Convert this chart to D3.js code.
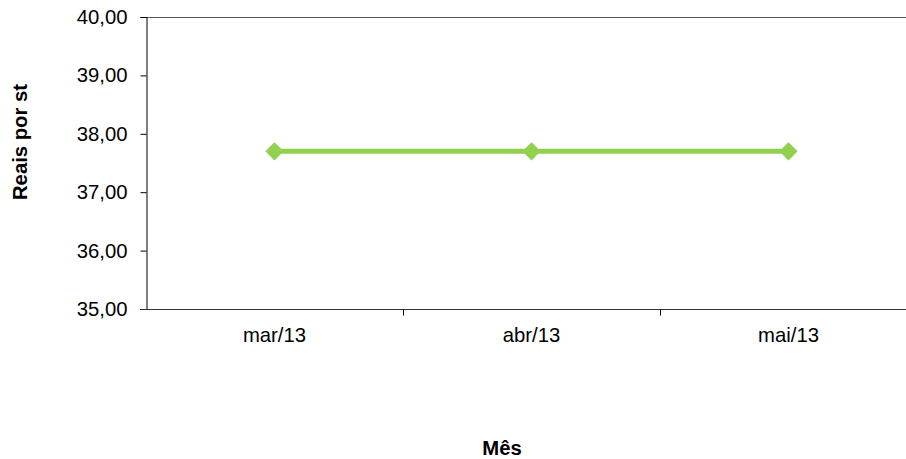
<!DOCTYPE html>
<html>
<head>
<meta charset="utf-8">
<script src="https://cdn.jsdelivr.net/npm/d3@7"></script>
<style>
  html, body { margin: 0; padding: 0; background: #fff; }
  svg { display: block; font-family: "Liberation Sans", Arial, sans-serif; }
</style>
</head>
<body>
<svg id="chart" width="906" height="459"></svg>
<script>
// Monthly price per stere
const months = ["mar/13", "abr/13", "mai/13"];
const prices = [37.70, 37.70, 37.70];
const yTicks = [35, 36, 37, 38, 39, 40];
const yTitle = "Reais por st";
const xTitle = "Mês";

const svg = d3.select("#chart");
const plotLeft = 146, plotRight = 917, plotTop = 17, plotBottom = 309;
const fontFamily = '"Liberation Sans", Arial, sans-serif';
const fontSize = 20.3;

const x = d3.scaleBand().domain(months).range([plotLeft, plotRight]);
const y = d3.scaleLinear().domain([35, 40]).range([plotBottom, plotTop]);
const fmt = v => d3.format(".2f")(v).replace(".", ",");

// plot frame top edge
svg.append("line")
  .attr("x1", plotLeft).attr("x2", plotRight)
  .attr("y1", plotTop + 0.5).attr("y2", plotTop + 0.5)
  .attr("stroke", "#555").attr("stroke-width", 1);

// y axis
const yAxis = svg.append("g")
  .attr("transform", `translate(${plotLeft + 0.5},0)`)
  .attr("font-family", fontFamily)
  .call(d3.axisLeft(y).tickValues(yTicks).tickFormat(fmt).tickSizeOuter(0).tickSize(6).tickPadding(13));
yAxis.select(".domain").attr("stroke", "#000");
yAxis.selectAll(".tick line").attr("stroke", "#000");
yAxis.selectAll("text").attr("font-size", fontSize).attr("fill", "#000");

// x axis: ticks on band boundaries
const xAxis = svg.append("g").attr("transform", `translate(0,${plotBottom + 0.5})`);
xAxis.append("line").attr("x1", plotLeft - 6).attr("x2", plotRight)
  .attr("stroke", "#333");
const bounds = months.map(m => x(m)).concat([x(months[months.length - 1]) + x.bandwidth()]);
xAxis.selectAll(".bt").data(bounds.slice(1, -1)).join("line")
  .attr("x1", d => Math.round(d) + 0.5).attr("x2", d => Math.round(d) + 0.5)
  .attr("y1", 0).attr("y2", 6).attr("stroke", "#000");
xAxis.selectAll(".cl").data(months).join("text")
  .attr("x", d => x(d) + x.bandwidth() / 2)
  .attr("y", 32)
  .attr("text-anchor", "middle")
  .attr("font-size", fontSize).attr("fill", "#000")
  .text(d => d);

// series line
const pts = months.map((m, i) => [x(m) + x.bandwidth() / 2, y(prices[i])]);
svg.append("path")
  .attr("d", d3.line()(pts))
  .attr("fill", "none")
  .attr("stroke", "#92D050")
  .attr("stroke-width", 5);

// diamond markers
svg.selectAll(".mk").data(pts).join("path")
  .attr("transform", d => `translate(${d[0]},${d[1]}) rotate(45)`)
  .attr("d", "M-6.5,-6.5H6.5V6.5H-6.5Z")
  .attr("fill", "#92D050");

// axis titles
svg.append("text")
  .attr("transform", `translate(27,142) rotate(-90)`)
  .attr("text-anchor", "middle")
  .attr("font-size", fontSize).attr("font-weight", "bold")
  .text(yTitle);
svg.append("text")
  .attr("x", 502).attr("y", 455)
  .attr("text-anchor", "middle")
  .attr("font-size", fontSize).attr("font-weight", "bold")
  .text(xTitle);
</script>
</body>
</html>
